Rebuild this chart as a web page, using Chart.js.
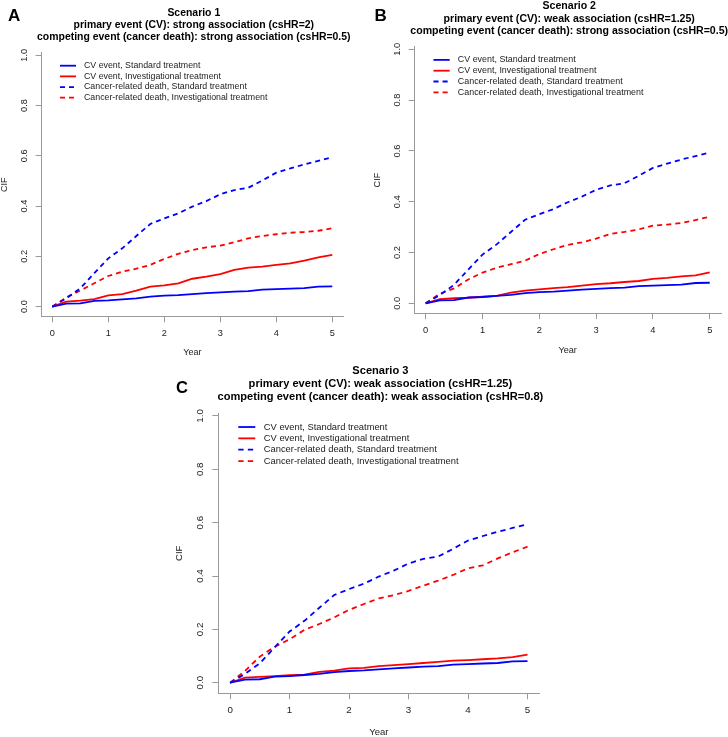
<!DOCTYPE html>
<html>
<head>
<meta charset="utf-8">
<script src="https://cdn.jsdelivr.net/npm/chart.js@4.4.1/dist/chart.umd.min.js"></script>
<style>
  html, body { margin: 0; padding: 0; background: #fff; }
  body { position: relative; width: 728px; height: 737px; overflow: hidden; font-family: "Liberation Sans", Arial, sans-serif; }
  canvas { position: absolute; }
  .tag { position: absolute; font-weight: bold; line-height: 1; color: #000; z-index: 2; }
</style>
</head>
<body>
<div class="tag" style="left:8px;top:7.3px;font-size:17px">A</div>
<div class="tag" style="left:374.5px;top:6.6px;font-size:17px">B</div>
<div class="tag" style="left:176px;top:379.3px;font-size:16.5px">C</div>
<canvas id="panelA"></canvas>
<canvas id="panelB"></canvas>
<canvas id="panelC"></canvas>
<script>
// ---- data ----
const years = [0, 0.25, 0.5, 0.75, 1, 1.25, 1.5, 1.75, 2, 2.25, 2.5, 2.75, 3, 3.25, 3.5, 3.75, 4, 4.25, 4.5, 4.75, 5];

// standard treatment arm (same curves in all three scenarios)
const cvStandard    = [0, 0.012, 0.013, 0.023, 0.025, 0.029, 0.033, 0.040, 0.044, 0.046, 0.050, 0.054, 0.057, 0.060, 0.062, 0.068, 0.070, 0.072, 0.074, 0.080, 0.081];
const deathStandard = [0, 0.033, 0.073, 0.133, 0.192, 0.232, 0.281, 0.329, 0.351, 0.371, 0.398, 0.420, 0.447, 0.464, 0.473, 0.502, 0.533, 0.550, 0.566, 0.580, 0.594];

// investigational arm, scenario 1
const cvInvest1    = [0, 0.020, 0.024, 0.030, 0.045, 0.050, 0.064, 0.080, 0.085, 0.093, 0.111, 0.119, 0.129, 0.146, 0.155, 0.159, 0.166, 0.172, 0.183, 0.196, 0.206];
const deathInvest1 = [0, 0.037, 0.064, 0.093, 0.122, 0.139, 0.151, 0.166, 0.190, 0.210, 0.225, 0.236, 0.243, 0.256, 0.272, 0.281, 0.288, 0.294, 0.297, 0.302, 0.312];

// investigational arm, scenario 2
const cvInvest2    = [0, 0.017, 0.020, 0.022, 0.026, 0.029, 0.042, 0.050, 0.055, 0.060, 0.064, 0.070, 0.076, 0.079, 0.084, 0.088, 0.096, 0.100, 0.106, 0.110, 0.122];
const deathInvest2 = [0, 0.038, 0.059, 0.094, 0.121, 0.140, 0.154, 0.168, 0.194, 0.213, 0.230, 0.240, 0.255, 0.273, 0.281, 0.291, 0.306, 0.310, 0.316, 0.328, 0.341];

// investigational arm, scenario 3
const cvInvest3    = [0, 0.019, 0.022, 0.025, 0.028, 0.030, 0.041, 0.045, 0.054, 0.056, 0.062, 0.066, 0.070, 0.074, 0.078, 0.083, 0.085, 0.088, 0.091, 0.096, 0.105];
const deathInvest3 = [0, 0.044, 0.098, 0.135, 0.163, 0.198, 0.220, 0.245, 0.273, 0.295, 0.316, 0.328, 0.344, 0.364, 0.383, 0.404, 0.429, 0.440, 0.466, 0.489, 0.510];

const seriesLabels = [
  "CV event, Standard treatment",
  "CV event, Investigational treatment",
  "Cancer-related death, Standard treatment",
  "Cancer-related death, Investigational treatment"
];

const titles1 = ["Scenario 1", "primary event (CV): strong association (csHR=2)", "competing event (cancer death): strong association (csHR=0.5)"];
const titles2 = ["Scenario 2", "primary event (CV): weak association (csHR=1.25)", "competing event (cancer death): strong association (csHR=0.5)"];
const titles3 = ["Scenario 3", "primary event (CV): weak association (csHR=1.25)", "competing event (cancer death): weak association (csHR=0.8)"];

const xTicks = [0, 1, 2, 3, 4, 5];
const yTicks = [0, 0.2, 0.4, 0.6, 0.8, 1.0];

// ---- styling ----
const FONT = '"Liberation Sans", Arial, sans-serif';
const BLUE = "#0000ff";
const RED = "#ff0000";
const AXIS = "#999999";
const TEXT = "#222222";

const toPoints = vals => years.map((t, i) => ({ x: t, y: vals[i] }));

// titles, rotated y tick labels and the in-plot legend, R style
const rStyle = {
  id: "rStyle",
  afterDraw(chart, args, o) {
    const { ctx, chartArea: a, scales: { y } } = chart;
    const s = o.s;
    ctx.save();

    ctx.fillStyle = "#000";
    ctx.font = `bold ${10.45 * s}px ${FONT}`;
    ctx.textAlign = "center";
    ctx.textBaseline = "middle";
    o.title.forEach((line, i) => {
      ctx.fillText(line, (a.left + a.right) / 2 + 1.5 * s, a.top - 39.9 * s + i * 12.25 * s);
    });

    ctx.fillStyle = TEXT;
    ctx.font = `${9.2 * s}px ${FONT}`;
    yTicks.forEach(v => {
      ctx.save();
      ctx.translate(a.left - 17.1 * s, y.getPixelForValue(v));
      ctx.rotate(-Math.PI / 2);
      ctx.fillText(v.toFixed(1), 0, 0);
      ctx.restore();
    });

    ctx.font = `${8.8 * s}px ${FONT}`;
    ctx.textAlign = "left";
    chart.data.datasets.forEach((ds, i) => {
      const ly = a.top + 13 * s + i * 10.67 * s;
      ctx.beginPath();
      ctx.strokeStyle = ds.borderColor;
      ctx.lineWidth = ds.borderWidth;
      ctx.setLineDash(ds.borderDash || []);
      ctx.moveTo(a.left + 18.9 * s, ly);
      ctx.lineTo(a.left + 34.9 * s, ly);
      ctx.stroke();
      ctx.setLineDash([]);
      ctx.fillText(ds.label, a.left + 42.9 * s, ly);
    });

    ctx.restore();
  }
};

function makePanel(p, title, cvInvest, deathInvest) {
  const cv = document.getElementById(p.id);
  cv.width = p.box.w;
  cv.height = p.box.h;
  cv.style.left = p.box.x + "px";
  cv.style.top = p.box.y + "px";

  const s = p.s;
  const L = p.plot.l - p.box.x, R = p.plot.r - p.box.x;
  const T = p.plot.t - p.box.y, B = p.plot.b - p.box.y;
  const axisSize = 9 * s;
  const half = axisSize * 1.2 / 2;
  const dash = [5 * s, 4 * s];
  const grid = { drawOnChartArea: false, drawTicks: true, tickLength: 5.5 * s, tickColor: AXIS, tickWidth: 1 };
  const border = { display: true, color: AXIS, width: 1 };

  return new Chart(cv, {
    type: "line",
    data: {
      datasets: [
        { label: seriesLabels[0], data: toPoints(cvStandard), borderColor: BLUE, borderWidth: 1.8 },
        { label: seriesLabels[1], data: toPoints(cvInvest), borderColor: RED, borderWidth: 1.8 },
        { label: seriesLabels[2], data: toPoints(deathStandard), borderColor: BLUE, borderWidth: 1.8, borderDash: dash },
        { label: seriesLabels[3], data: toPoints(deathInvest), borderColor: RED, borderWidth: 1.8, borderDash: dash }
      ]
    },
    options: {
      responsive: false,
      animation: false,
      devicePixelRatio: 1,
      layout: { padding: { top: T, right: p.box.w - R, bottom: 0, left: 0 } },
      elements: { point: { radius: 0 }, line: { tension: 0 } },
      plugins: {
        legend: { display: false },
        tooltip: { enabled: false },
        title: { display: false },
        rStyle: { s: s, title: title }
      },
      scales: {
        x: {
          type: "linear",
          min: -0.2,
          max: 5.2,
          afterBuildTicks: sc => { sc.ticks = xTicks.map(v => ({ value: v })); },
          afterFit: sc => { sc.height = p.box.h - B; },
          grid: grid,
          border: border,
          ticks: { color: TEXT, font: { family: FONT, size: 9.2 * s }, padding: 5.3 * s, maxRotation: 0, autoSkip: false, callback: v => String(v) },
          title: {
            display: true, text: "Year", color: TEXT,
            font: { family: FONT, size: axisSize },
            padding: { top: 0, bottom: p.box.h - (B + 36.3 * s) - half }
          }
        },
        y: {
          type: "linear",
          min: -0.04,
          max: 1.0103,
          afterBuildTicks: sc => { sc.ticks = yTicks.map(v => ({ value: v })); },
          afterFit: sc => { sc.width = L; },
          grid: grid,
          border: border,
          ticks: { display: false },
          title: {
            display: true, text: "CIF", color: TEXT,
            font: { family: FONT, size: axisSize },
            padding: { top: (L - 36.1 * s) - half, bottom: 0 }
          }
        }
      }
    },
    plugins: [rStyle]
  });
}

makePanel({ id: "panelA", box: { x: 0, y: 0, w: 364, h: 370 }, plot: { l: 41.1, r: 343.5, t: 52.7, b: 316.7 }, s: 1 },
  titles1, cvInvest1, deathInvest1);
makePanel({ id: "panelB", box: { x: 364, y: -4, w: 364, h: 374 }, plot: { l: 414.3, r: 721.1, t: 46.7, b: 313.5 }, s: 1.014 },
  titles2, cvInvest2, deathInvest2);
makePanel({ id: "panelC", box: { x: 168, y: 357, w: 392, h: 382 }, plot: { l: 218.2, r: 539.4, t: 413.2, b: 693.4 }, s: 1.063 },
  titles3, cvInvest3, deathInvest3);
</script>
</body>
</html>
